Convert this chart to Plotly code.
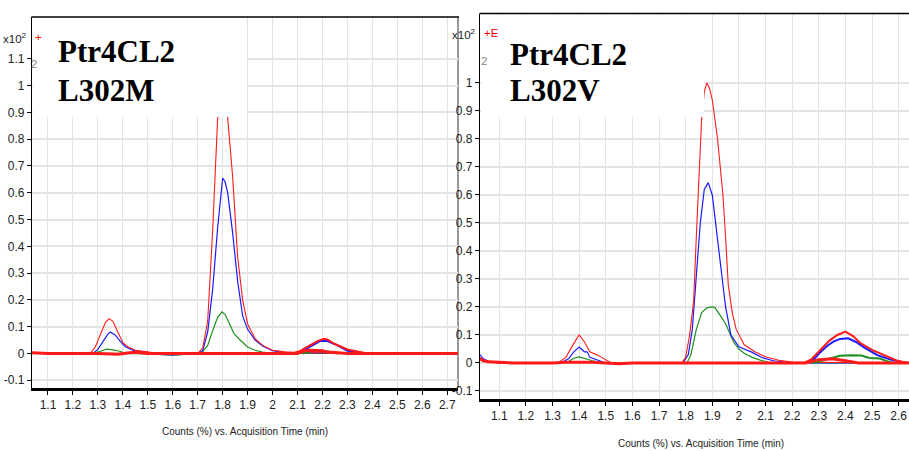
import plotly.graph_objects as go

# ---------------- data ----------------
# Left panel: Ptr4CL2 L302M
L_red_t = [1.036, 1.27, 1.29, 1.31, 1.33, 1.345, 1.36, 1.38, 1.40, 1.42, 1.45, 1.50, 1.53, 1.70, 1.72, 1.74, 1.75, 1.76, 1.78, 1.80, 1.82, 1.84, 1.86, 1.88, 1.90, 1.93, 1.96, 2.00, 2.05, 2.10, 2.743]
L_red_v = [0, 0, 0.025, 0.07, 0.115, 0.13, 0.12, 0.08, 0.04, 0.025, 0.012, 0.006, 0, 0, 0.02, 0.12, 0.27, 0.46, 0.88, 1.0, 0.88, 0.66, 0.36, 0.2, 0.11, 0.055, 0.03, 0.012, 0.006, 0.003, 0]
L_blue_t = [1.036, 1.28, 1.30, 1.32, 1.34, 1.35, 1.37, 1.39, 1.41, 1.44, 1.47, 1.50, 1.55, 1.60, 1.65, 1.70, 1.72, 1.74, 1.76, 1.78, 1.80, 1.81, 1.82, 1.84, 1.86, 1.88, 1.90, 1.93, 1.96, 2.00, 2.05, 2.743]
L_blue_v = [0, 0, 0.015, 0.045, 0.072, 0.08, 0.068, 0.045, 0.025, 0.012, 0.006, 0.002, -0.004, -0.005, -0.003, 0, 0.01, 0.08, 0.24, 0.47, 0.655, 0.64, 0.6, 0.45, 0.27, 0.14, 0.09, 0.05, 0.028, 0.01, 0.003, 0]
L_green_t = [1.036, 1.28, 1.31, 1.335, 1.36, 1.38, 1.40, 1.42, 1.50, 1.55, 1.60, 1.65, 1.70, 1.72, 1.74, 1.76, 1.78, 1.797, 1.81, 1.83, 1.845, 1.87, 1.90, 1.93, 1.96, 2.00, 2.743]
L_green_v = [0, 0, 0.008, 0.016, 0.013, 0.01, 0.004, 0, -0.002, -0.005, -0.006, -0.004, 0, 0.006, 0.03, 0.085, 0.135, 0.155, 0.145, 0.105, 0.075, 0.05, 0.024, 0.012, 0.005, 0, 0]
L_red2_t = [2.08, 2.11, 2.13, 2.15, 2.18, 2.205, 2.22, 2.245, 2.27, 2.30, 2.33, 2.36, 2.38]
L_red2_v = [0, 0.009, 0.02, 0.03, 0.046, 0.055, 0.052, 0.037, 0.026, 0.015, 0.009, 0.004, 0]
L_blue2_t = [2.10, 2.12, 2.15, 2.19, 2.22, 2.26, 2.30, 2.34, 2.37]
L_blue2_v = [0, 0.008, 0.025, 0.046, 0.046, 0.03, 0.01, 0.003, 0]
L_green2_t = [2.12, 2.16, 2.20, 2.23, 2.26]
L_green2_v = [0, 0.01, 0.01, 0.004, 0]
L_base_t = [1.036, 1.05, 1.07, 1.10, 1.30, 1.38, 1.42, 1.45, 1.50, 1.70, 2.10, 2.12, 2.15, 2.20, 2.22, 2.30, 2.743]
L_base_v = [0.003, 0.002, 0, 0, 0, -0.003, 0.002, 0.004, 0, 0, 0, 0.008, 0.012, 0.01, 0.005, 0, 0]

# Right panel: Ptr4CL2 L302V
R_red_t = [1.0275, 1.04, 1.06, 1.10, 1.32, 1.35, 1.38, 1.40, 1.42, 1.44, 1.47, 1.50, 1.52, 1.785, 1.80, 1.815, 1.83, 1.84, 1.85, 1.86, 1.87, 1.88, 1.89, 1.90, 1.92, 1.94, 1.95, 1.96, 1.975, 1.99, 2.02, 2.06, 2.10, 2.15, 2.20, 2.639]
R_red_v = [0.02, 0.01, 0.005, 0, 0, 0.02, 0.07, 0.1, 0.075, 0.04, 0.028, 0.01, 0, 0, 0.02, 0.1, 0.22, 0.45, 0.68, 0.87, 0.97, 1.0, 0.98, 0.94, 0.8, 0.6, 0.45, 0.28, 0.18, 0.12, 0.065, 0.04, 0.022, 0.01, 0.003, 0]
R_blue_t = [1.0275, 1.04, 1.06, 1.08, 1.10, 1.33, 1.36, 1.38, 1.40, 1.42, 1.43, 1.44, 1.47, 1.50, 1.79, 1.81, 1.825, 1.84, 1.855, 1.87, 1.885, 1.90, 1.92, 1.935, 1.95, 1.97, 2.00, 2.05, 2.09, 2.13, 2.20, 2.639]
R_blue_v = [0.03, 0.015, 0.006, 0.002, 0, 0, 0.015, 0.04, 0.057, 0.04, 0.04, 0.02, 0.01, 0, 0, 0.03, 0.12, 0.3, 0.5, 0.62, 0.644, 0.6, 0.44, 0.3, 0.2, 0.1, 0.058, 0.038, 0.018, 0.008, 0, 0]
R_green_t = [1.0275, 1.05, 1.10, 1.34, 1.36, 1.38, 1.40, 1.42, 1.45, 1.48, 1.805, 1.82, 1.84, 1.86, 1.88, 1.90, 1.91, 1.93, 1.95, 1.98, 2.00, 2.02, 2.05, 2.08, 2.12, 2.639]
R_green_v = [0.02, 0.005, 0, 0, 0.005, 0.017, 0.022, 0.016, 0.008, 0.002, 0, 0.03, 0.12, 0.18, 0.197, 0.2, 0.198, 0.17, 0.14, 0.075, 0.05, 0.035, 0.02, 0.01, 0, 0]
R_red2_t = [2.25, 2.27, 2.30, 2.34, 2.37, 2.40, 2.43, 2.455, 2.50, 2.555, 2.59, 2.62, 2.639]
R_red2_v = [0.003, 0.012, 0.04, 0.08, 0.1, 0.112, 0.095, 0.072, 0.047, 0.023, 0.01, 0.003, 0]
R_blue2_t = [2.26, 2.28, 2.30, 2.33, 2.355, 2.38, 2.41, 2.44, 2.47, 2.52, 2.57, 2.60, 2.639]
R_blue2_v = [0.003, 0.012, 0.033, 0.06, 0.076, 0.086, 0.088, 0.075, 0.056, 0.028, 0.012, 0.005, 0]
R_green2_t = [2.28, 2.31, 2.35, 2.38, 2.42, 2.46, 2.49, 2.53, 2.56, 2.58]
R_green2_v = [0, 0.008, 0.016, 0.026, 0.028, 0.027, 0.018, 0.016, 0.005, 0]
R_base_t = [1.0275, 1.04, 1.06, 1.10, 1.15, 1.30, 1.35, 1.45, 1.50, 1.55, 1.60, 2.25, 2.30, 2.35, 2.40, 2.45, 2.639]
R_base_v = [0.015, 0.008, 0.004, 0.002, 0, 0, 0.003, 0.003, 0, -0.003, 0, 0, 0.012, 0.015, 0.008, 0, 0]

L_xticks = [1.1, 1.2, 1.3, 1.4, 1.5, 1.6, 1.7, 1.8, 1.9, 2.0, 2.1, 2.2, 2.3, 2.4, 2.5, 2.6, 2.7]
L_xlabels = ["1.1", "1.2", "1.3", "1.4", "1.5", "1.6", "1.7", "1.8", "1.9", "2", "2.1", "2.2", "2.3", "2.4", "2.5", "2.6", "2.7"]
R_xticks = L_xticks[:-1]
R_xlabels = L_xlabels[:-1]
L_yticks = [-0.1, 0, 0.1, 0.2, 0.3, 0.4, 0.5, 0.6, 0.7, 0.8, 0.9, 1.0, 1.1]
L_ylabels = ["-0.1", "0", "0.1", "0.2", "0.3", "0.4", "0.5", "0.6", "0.7", "0.8", "0.9", "1", "1.1"]
R_yticks = L_yticks[:-1]
R_ylabels = L_ylabels[:-1]

xtitle = "Counts (%) vs. Acquisition Time (min)"
labels = [("Ptr4CL2", "L302M"), ("Ptr4CL2", "L302V")]

# ---------------- figure ----------------
W, H = 909, 451
def px(x):
    return x / W
def py(y):
    return 1 - y / H

RED, BLUE, GREEN = "#ff1a1a", "#1a1aff", "#1f8f1f"
fig = go.Figure()

def add(t, v, color, width, xa, ya):
    fig.add_trace(go.Scatter(x=t, y=v, mode="lines", line=dict(color=color, width=width),
                             xaxis=xa, yaxis=ya, showlegend=False, hoverinfo="skip"))

for xa, ya, series in [
    ("x", "y", [(L_green_t, L_green_v, GREEN, 1.2), (L_blue_t, L_blue_v, BLUE, 1.2), (L_red_t, L_red_v, RED, 1.1),
                (L_green2_t, L_green2_v, GREEN, 2), (L_blue2_t, L_blue2_v, BLUE, 2), (L_red2_t, L_red2_v, RED, 2),
                (L_base_t, L_base_v, RED, 3)]),
    ("x2", "y2", [(R_green_t, R_green_v, GREEN, 1.2), (R_blue_t, R_blue_v, BLUE, 1.2), (R_red_t, R_red_v, RED, 1.1),
                  (R_green2_t, R_green2_v, GREEN, 2), (R_blue2_t, R_blue2_v, BLUE, 2), (R_red2_t, R_red2_v, RED, 2),
                  (R_base_t, R_base_v, RED, 3)]),
]:
    for t, v, c, w in series:
        add(t, v, c, w, xa, ya)

NARROW = "Liberation Sans Narrow, Liberation Sans"
tickfont = dict(family=NARROW, size=12, color="#222")
xcommon = dict(showgrid=True, gridcolor="#e4e4e4", gridwidth=1, zeroline=False, showline=True,
               linecolor="black", linewidth=2.5, ticks="outside", ticklen=4, tickcolor="black",
               tickfont=tickfont)
ycommon = dict(showgrid=True, gridcolor="#e4e4e4", gridwidth=2, zeroline=False, showline=True,
               linecolor="black", linewidth=1.2, ticks="outside", ticklen=4, tickcolor="black",
               tickfont=tickfont)

fig.update_layout(
    width=W, height=H, margin=dict(l=0, r=0, t=0, b=0),
    paper_bgcolor="white", plot_bgcolor="white",
    xaxis=dict(domain=[px(32), px(458)], range=[1.036, 2.743], tickvals=L_xticks, ticktext=L_xlabels,
               anchor="y", **xcommon),
    yaxis=dict(domain=[py(388), py(17)], range=[-0.129, 1.256], tickvals=L_yticks, ticktext=L_ylabels,
               anchor="x", **ycommon),
    xaxis2=dict(domain=[px(480), 1.0], range=[1.0275, 2.639], tickvals=R_xticks, ticktext=R_xlabels,
                anchor="y2", **xcommon),
    yaxis2=dict(domain=[py(399), py(13.5)], range=[-0.1286, 1.248], tickvals=R_yticks, ticktext=R_ylabels,
                anchor="x2", **ycommon),
)

shapes = [
    # white label boxes that hide grid and peaks
    dict(type="rect", xref="paper", yref="paper", x0=px(33), x1=px(247), y0=py(117), y1=py(18),
         fillcolor="white", line=dict(width=0), layer="above"),
    dict(type="rect", xref="paper", yref="paper", x0=px(481), x1=px(704), y0=py(117), y1=py(14.5),
         fillcolor="white", line=dict(width=0), layer="above"),
    # frame lines
    dict(type="line", xref="paper", yref="paper", x0=px(31.5), x1=px(459), y0=py(17), y1=py(17),
         line=dict(color="black", width=1.5), layer="above"),
    dict(type="line", xref="paper", yref="paper", x0=px(458), x1=px(458), y0=py(388), y1=py(17),
         line=dict(color="#999999", width=2), layer="below"),
    dict(type="line", xref="paper", yref="paper", x0=px(479.5), x1=1.0, y0=py(13.5), y1=py(13.5),
         line=dict(color="black", width=1.5), layer="above"),
]
fig.update_layout(shapes=shapes)

small = dict(family=NARROW, size=11.5, color="#222")
ann = []
for (cx, cy) in [(245, 431), (701, 443)]:
    ann.append(dict(text=xtitle, xref="paper", yref="paper", x=px(cx), y=py(cy), xanchor="center",
                    yanchor="middle", showarrow=False, font=dict(family=NARROW, size=10, color="#222")))
for (x0, (l1, l2), y1, y2) in [(56, labels[0], 52, 90), (508, labels[1], 54, 90)]:
    for txt, yc in [(l1, y1), (l2, y2)]:
        ann.append(dict(text="<b>" + txt + "</b>", xref="paper", yref="paper", x=px(x0), y=py(yc),
                        xanchor="left", yanchor="middle", showarrow=False,
                        font=dict(family="Liberation Serif, Times New Roman, serif", size=31, color="black")))
for (xr, yc, ex) in [(29, 38, "+"), (478, 34, "+E")]:
    ann.append(dict(text="x10<sup>2</sup>", xref="paper", yref="paper", x=px(xr), y=py(yc), xanchor="right",
                    yanchor="middle", showarrow=False, font=small))
    ann.append(dict(text=ex, xref="paper", yref="paper", x=px(xr + 4), y=py(yc - 1), xanchor="left",
                    yanchor="middle", showarrow=False, font=dict(family=NARROW, size=11.5, color="red")))
for (xg, yg) in [(34, 64), (484, 61)]:
    ann.append(dict(text="2", xref="paper", yref="paper", x=px(xg), y=py(yg), xanchor="center",
                    yanchor="middle", showarrow=False, font=dict(family=NARROW, size=11.5, color="#888")))
fig.update_layout(annotations=ann)

fig.write_html("out.html")
